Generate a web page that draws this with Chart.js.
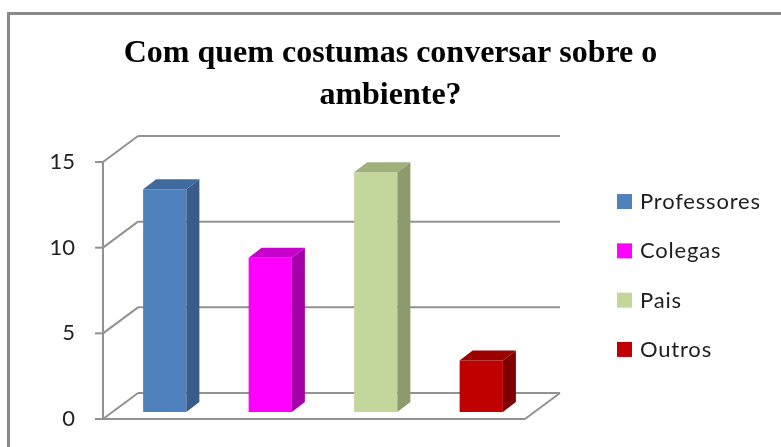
<!DOCTYPE html>
<html>
<head>
<meta charset="utf-8">
<script src="https://cdn.jsdelivr.net/npm/chart.js@4"></script>
<style>
  html, body { margin: 0; padding: 0; background: #fff; overflow: hidden; }
  #frame { position: absolute; left: 7px; top: 12px; width: 900px; height: 600px; border: 3px solid #8a8a8a; }
  #wrap { position: absolute; left: 0; top: 0; width: 781px; height: 447px; }
</style>
</head>
<body>
<div id="frame"></div>
<div id="wrap"><canvas id="chart" width="781" height="447"></canvas></div>
<script>
const categories = ['Professores', 'Colegas', 'Pais', 'Outros'];
const values = [13, 9, 14, 3];
const tickValues = [0, 5, 10, 15];

const frontColors = ['#4F81BD', '#FF00FF', '#C3D69B', '#C00000'];
const sideColors = ['#385D8A', '#A300A8', '#8C9A6C', '#7E0000'];
const topColors = ['#3F6A9E', '#C800CC', '#A0B07A', '#9C0000'];

const gridColor = '#929292';
// offsets of the front edge and the back wall from the plane of the bars
const front = { dx: -9, dy: 7 };
const back = { dx: 26, dy: -19 };
const barDepth = { dx: 13, dy: -10 };

function line(ctx, x1, y1, x2, y2) {
    ctx.beginPath();
    ctx.moveTo(x1, y1);
    ctx.lineTo(x2, y2);
    ctx.stroke();
}

const depth3d = {
    id: 'depth3d',
    beforeDatasetsDraw(chart) {
        const { ctx, chartArea: a, scales: { y } } = chart;
        ctx.save();
        ctx.strokeStyle = gridColor;
        ctx.lineWidth = 2;

        tickValues.forEach(v => {
            const py = y.getPixelForValue(v);
            line(ctx, a.left + back.dx, py + back.dy, a.right + back.dx, py + back.dy);
            line(ctx, a.left + front.dx, py + front.dy, a.left + back.dx, py + back.dy);
            line(ctx, a.left + front.dx - 8, py + front.dy, a.left + front.dx, py + front.dy);
        });

        const y0 = y.getPixelForValue(0);
        const yMax = y.getPixelForValue(tickValues[tickValues.length - 1]);
        line(ctx, a.left + front.dx, y0 + front.dy, a.left + front.dx, yMax + front.dy);
        line(ctx, a.left + front.dx, y0 + front.dy, a.right + front.dx, y0 + front.dy);
        line(ctx, a.right + front.dx, y0 + front.dy, a.right + back.dx, y0 + back.dy);
        ctx.restore();
    },
    afterDatasetsDraw(chart) {
        const { ctx } = chart;
        ctx.save();
        chart.getDatasetMeta(0).data.forEach((bar, i) => {
            const { x, y, base, width } = bar.getProps(['x', 'y', 'base', 'width'], true);
            const l = x - width / 2, r = x + width / 2;

            ctx.fillStyle = sideColors[i];
            ctx.beginPath();
            ctx.moveTo(r, y);
            ctx.lineTo(r + barDepth.dx, y + barDepth.dy);
            ctx.lineTo(r + barDepth.dx, base + barDepth.dy);
            ctx.lineTo(r, base);
            ctx.closePath();
            ctx.fill();

            ctx.fillStyle = topColors[i];
            ctx.beginPath();
            ctx.moveTo(l, y);
            ctx.lineTo(l + barDepth.dx, y + barDepth.dy);
            ctx.lineTo(r + barDepth.dx, y + barDepth.dy);
            ctx.lineTo(r, y);
            ctx.closePath();
            ctx.fill();
        });
        ctx.restore();
    },
    afterDraw(chart) {
        // legend on the right
        const { ctx, chartArea: a } = chart;
        const x0 = a.right + 83;
        const cy = (a.top + a.bottom) / 2 - 8.5;
        const step = 49.3;
        ctx.save();
        ctx.font = '22px Lato';
        ctx.letterSpacing = '0.8px';
        ctx.textBaseline = 'middle';
        ctx.textAlign = 'left';
        categories.forEach((c, i) => {
            const yy = cy + (i - 1.5) * step;
            ctx.fillStyle = frontColors[i];
            ctx.fillRect(x0, yy - 7, 15, 15);
            ctx.fillStyle = '#1e1e1e';
            ctx.fillText(c, x0 + 23, yy + 1);
        });
        ctx.restore();
    }
};

new Chart(document.getElementById('chart'), {
    type: 'bar',
    data: {
        labels: categories,
        datasets: [{
            data: values,
            backgroundColor: frontColors,
            borderWidth: 0,
            barPercentage: 0.41,
            categoryPercentage: 1
        }]
    },
    options: {
        responsive: false,
        animation: false,
        devicePixelRatio: 1,
        events: [],
        layout: { padding: { top: 0, left: 0, right: 0, bottom: 35 } },
        plugins: {
            legend: { display: false },
            tooltip: { enabled: false },
            title: {
                display: true,
                text: ['Com quem costumas conversar sobre o', 'ambiente?'],
                color: '#000',
                font: { family: 'Liberation Serif', size: 32, weight: 'bold', lineHeight: 1.3125 },
                padding: { top: 33, bottom: 38 }
            }
        },
        scales: {
            x: { type: 'category', display: false, offset: true },
            y: {
                min: 0,
                max: 15,
                grid: { display: false, drawTicks: false },
                border: { display: false },
                ticks: {
                    stepSize: 5,
                    labelOffset: 7,
                    padding: 37,
                    color: '#222',
                    font: { family: 'Lato', size: 22 }
                },
                afterFit: s => { s.width = 112; s.paddingTop = 0; s.paddingBottom = 0; }
            },
            y2: {
                type: 'linear',
                position: 'right',
                grid: { display: false },
                border: { display: false },
                ticks: { display: false },
                afterFit: s => { s.width = 247; s.paddingTop = 0; s.paddingBottom = 0; }
            }
        }
    },
    plugins: [depth3d]
});
</script>
</body>
</html>
